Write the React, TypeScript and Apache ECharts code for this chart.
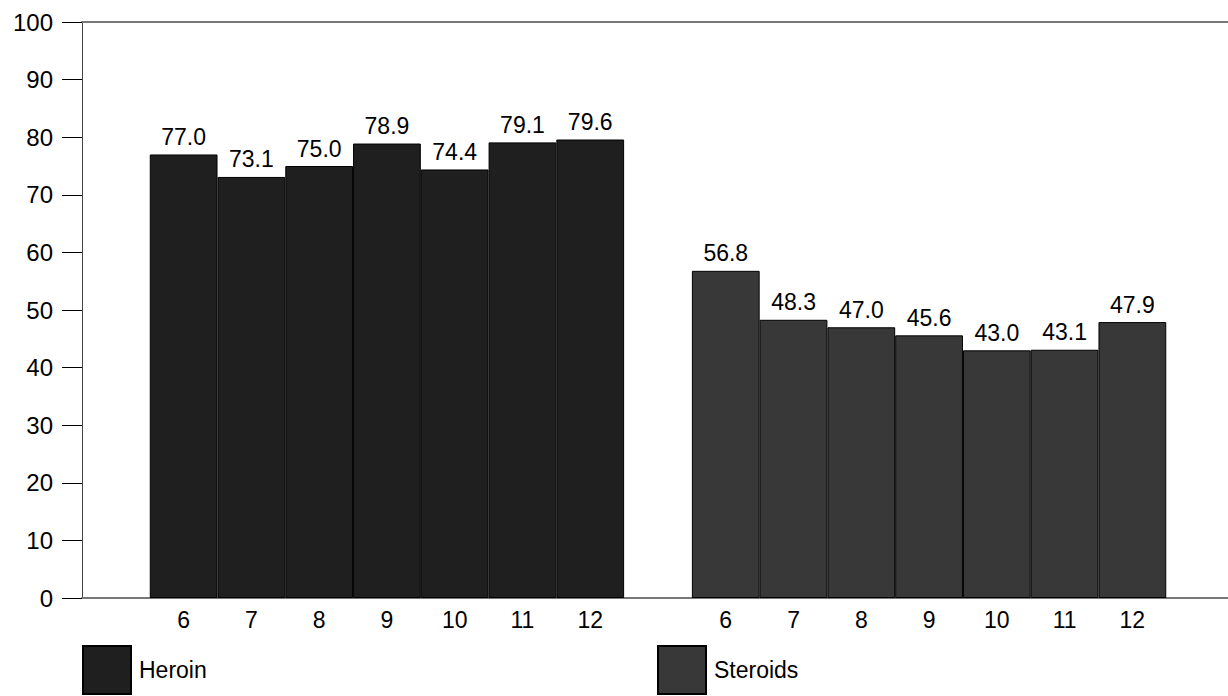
import React, { useEffect, useRef } from "react";
import * as echarts from "echarts";

const grades = ["6", "7", "8", "9", "10", "11", "12"];
const heroin = [77.0, 73.1, 75.0, 78.9, 74.4, 79.1, 79.6];
const steroids = [56.8, 48.3, 47.0, 45.6, 43.0, 43.1, 47.9];
const yTicks = [0, 10, 20, 30, 40, 50, 60, 70, 80, 90, 100];

const FONT = "'Liberation Sans', Arial, sans-serif";

export default function App() {
  const ref = useRef<HTMLDivElement>(null);
  useEffect(() => {
    document.body.style.margin = "0";
    if (!ref.current) return;
    const chart = echarts.init(ref.current, null, { renderer: "svg" });
    const empty = "-";
    const cats = ["", ...grades, "", ...grades, ""].map((c, i) => ({ value: c + "|" + i }));
    const heroinData = [empty, ...heroin, empty, ...grades.map(() => empty), empty];
    const steroidData = [empty, ...grades.map(() => empty), empty, ...steroids, empty];
    const labelFmt = (p: any) => Number(p.value).toFixed(1);
    const legendBase = {
      icon: "rect",
      itemWidth: 48,
      itemHeight: 48,
      padding: 0,
      textStyle: { fontSize: 23, color: "#000", fontFamily: FONT, padding: [0, 0, 0, 3] },
      selectedMode: false,
    };
    chart.setOption({
      animation: false,
      backgroundColor: "#ffffff",
      textStyle: { fontFamily: FONT },
      grid: { left: 82, right: 0, top: 22, bottom: 98, containLabel: false },
      legend: [
        { ...legendBase, data: ["Heroin"], left: 82, top: 645 },
        { ...legendBase, data: ["Steroids"], left: 657, top: 645 },
      ],
      xAxis: [
        {
          type: "category",
          data: cats,
          position: "bottom",
          axisLine: { show: true, lineStyle: { color: "#777777", width: 2 } },
          axisTick: { show: false },
          axisLabel: {
            fontSize: 23,
            color: "#000",
            fontFamily: FONT,
            margin: 10,
            interval: 0,
            formatter: (v: string) => v.split("|")[0],
          },
          splitLine: { show: false },
        },
        {
          type: "category",
          data: cats,
          position: "top",
          axisLine: { show: true, lineStyle: { color: "#777777", width: 2 } },
          axisTick: { show: false },
          axisLabel: { show: false },
          splitLine: { show: false },
        },
      ],
      yAxis: {
        type: "value",
        min: yTicks[0],
        max: yTicks[yTicks.length - 1],
        interval: 10,
        axisLine: { show: true, lineStyle: { color: "#444444", width: 1 } },
        axisTick: { show: true, length: 20, lineStyle: { color: "#000", width: 1 } },
        axisLabel: { fontSize: 24, color: "#000", fontFamily: FONT, margin: 29 },
        splitLine: { show: false },
      },
      series: [
        {
          name: "Heroin",
          type: "bar",
          data: heroinData,
          barWidth: "100%",
          barGap: "-100%",
          itemStyle: { color: "#1f1f1f", borderColor: "#000", borderWidth: 1 },
          label: {
            show: true,
            position: "top",
            distance: 6,
            fontSize: 23,
            color: "#000",
            fontFamily: FONT,
            formatter: labelFmt,
          },
        },
        {
          name: "Steroids",
          type: "bar",
          data: steroidData,
          barWidth: "100%",
          barGap: "-100%",
          itemStyle: { color: "#383838", borderColor: "#000", borderWidth: 1 },
          label: {
            show: true,
            position: "top",
            distance: 6,
            fontSize: 23,
            color: "#000",
            fontFamily: FONT,
            formatter: labelFmt,
          },
        },
      ],
    });
    return () => chart.dispose();
  }, []);
  return (
    <div style={{ width: 1228, height: 696, overflow: "hidden" }}>
      <div ref={ref} style={{ width: 1234, height: 696 }} />
    </div>
  );
}
